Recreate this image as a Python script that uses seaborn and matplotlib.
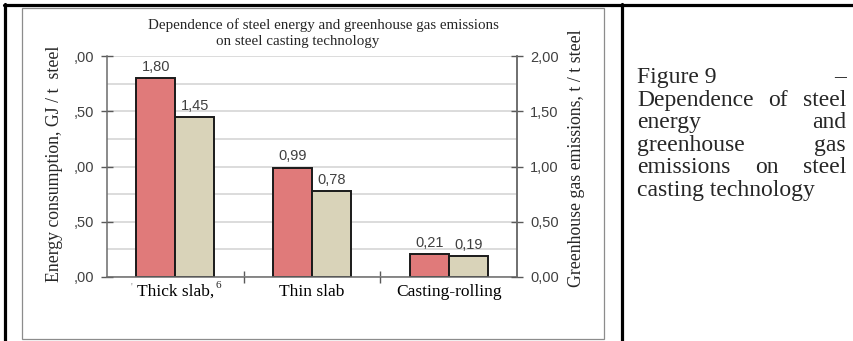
import matplotlib
matplotlib.use('Agg')
import pandas as pd
import matplotlib.pyplot as plt
import seaborn as sns
from matplotlib.patches import Rectangle
from matplotlib.lines import Line2D

# data
categories = ['Thick slab', 'Thin slab', 'Casting-rolling']
xtick_labels = ['Thick slab,', 'Thin slab', 'Casting-rolling']
series_names = ['Energy consumption', 'Greenhouse gas emissions']
energy = [1.80, 0.99, 0.21]       # GJ / t steel
emissions = [1.45, 0.78, 0.19]    # t / t steel
yticks = [0.0, 0.5, 1.0, 1.5, 2.0]
left_ticklabels = [',00', ',50', ',00', ',50', ',00']
right_ticklabels = ['0,00', '0,50', '1,00', '1,50', '2,00']

title_lines = ['Dependence of steel energy and greenhouse gas emissions',
               'on steel casting technology']
caption_lines = [['Figure 9', '–'],
                 ['Dependence', 'of', 'steel'],
                 ['energy', 'and'],
                 ['greenhouse', 'gas'],
                 ['emissions', 'on', 'steel'],
                 ['casting technology']]

sns.set_theme(style='white')
plt.rcParams['font.family'] = ['Liberation Sans', 'DejaVu Sans']
SERIF = ['Liberation Serif', 'DejaVu Serif']

df = pd.DataFrame({
    'category': categories * 2,
    'series': [series_names[0]] * len(energy) + [series_names[1]] * len(emissions),
    'value': energy + emissions,
})

W, H = 854, 341
fig = plt.figure(figsize=(W / 100, H / 100), dpi=100)
fig.patch.set_facecolor('white')


def fx(px):
    return px / W


def fy(py):
    return 1 - py / H


# table borders of the document
for xs, ys in [((4, 854), (5, 5)), ((5.5, 5.5), (4, 341)), ((622, 622), (4, 341))]:
    fig.add_artist(Line2D([fx(xs[0]), fx(xs[1])], [fy(ys[0]), fy(ys[1])],
                          color='black', lw=2.3, transform=fig.transFigure))

# chart frame
fig.add_artist(Rectangle((fx(22), fy(339)), fx(604) - fx(22), fy(8) - fy(339),
                         fill=False, edgecolor='#8c8c8c', lw=0.9,
                         transform=fig.transFigure))

ax = fig.add_axes([fx(107), fy(277), fx(517) - fx(107), fy(56) - fy(277)])
sns.barplot(data=df, x='category', y='value', hue='series', order=categories,
            hue_order=series_names, palette=['#E07A7A', '#D9D3B9'], saturation=1,
            width=0.57, edgecolor='#1a1a1a', linewidth=1.4, legend=False, ax=ax)

ax.set_xlim(-0.5, len(categories) - 0.5)
ax.set_ylim(0, 2)
ax.set_xlabel('')
ax.set_ylabel('')
ax.set_yticks(yticks, left_ticklabels)
ax.set_yticks([0.25, 0.75, 1.25, 1.75], minor=True)
ax.yaxis.grid(True, which='both', color='#d9d9d9', lw=1.3)
ax.set_axisbelow(True)
ax.tick_params(axis='y', which='major', direction='inout', length=9, width=1,
               color='#595959', left=True, labelsize=10.5, labelcolor='#404040', pad=5)
ax.tick_params(axis='y', which='minor', length=0)

ax.set_xticks(range(len(categories)), xtick_labels)
ax.set_xticks([0.5, 1.5], minor=True)
ax.tick_params(axis='x', which='major', length=0, pad=5)
ax.tick_params(axis='x', which='minor', direction='inout', length=8, width=1,
               color='#595959', bottom=True)
for lab in ax.get_xticklabels():
    lab.set_family(SERIF)
    lab.set_fontsize(12.5)
    lab.set_color('black')

for side in ['left', 'right', 'bottom']:
    ax.spines[side].set_visible(True)
    ax.spines[side].set_color('#6b6b6b')
    ax.spines[side].set_linewidth(1.1)
ax.spines['top'].set_visible(False)

for container, values in zip(ax.containers, [energy, emissions]):
    ax.bar_label(container, labels=[f'{v:.2f}'.replace('.', ',') for v in values],
                 padding=3, fontsize=10.5, color='#404040')

ax2 = ax.twinx()
ax2.set_ylim(0, 2)
ax2.set_yticks(yticks, right_ticklabels)
ax2.tick_params(axis='y', direction='inout', length=9, width=1, color='#595959',
                right=True, labelsize=10.5, labelcolor='#404040', pad=5)
for side in ['left', 'top', 'bottom']:
    ax2.spines[side].set_visible(False)
ax2.spines['right'].set_color('#6b6b6b')
ax2.spines['right'].set_linewidth(1.1)

# axis titles and chart title
fig.text(fx(55), fy(164), 'Energy consumption, GJ / t  steel', rotation=90,
         ha='center', va='center', family=SERIF, fontsize=12.8)
fig.text(fx(577), fy(158), 'Greenhouse gas emissions, t / t steel', rotation=90,
         ha='center', va='center', family=SERIF, fontsize=12.8)
fig.text(fx(323), fy(25), title_lines[0], ha='center', va='center',
         family=SERIF, fontsize=10.8)
fig.text(fx(298), fy(42), title_lines[1], ha='center', va='center',
         family=SERIF, fontsize=10.8)

# stray marks around the first category label
fig.text(fx(218), fy(286), '6', ha='center', va='center', family=SERIF, fontsize=8)
fig.text(fx(131), fy(287), "'", ha='center', va='center', family=SERIF,
         fontsize=7, color='#888888')

# justified caption in the right cell
renderer = fig.canvas.get_renderer()
cap_left, cap_right = 637, 846
for i, words in enumerate(caption_lines):
    yb = fy(83 + i * 22.6)
    texts = [fig.text(0, yb, w, ha='left', va='baseline', family=SERIF,
                      fontsize=17) for w in words]
    widths = [t.get_window_extent(renderer).width for t in texts]
    gap = (cap_right - cap_left - sum(widths)) / (len(words) - 1) if len(words) > 1 else 0
    x = cap_left
    for t, w in zip(texts, widths):
        t.set_x(fx(x))
        x += w + gap

fig.savefig('out.png', dpi=100, facecolor='white')
